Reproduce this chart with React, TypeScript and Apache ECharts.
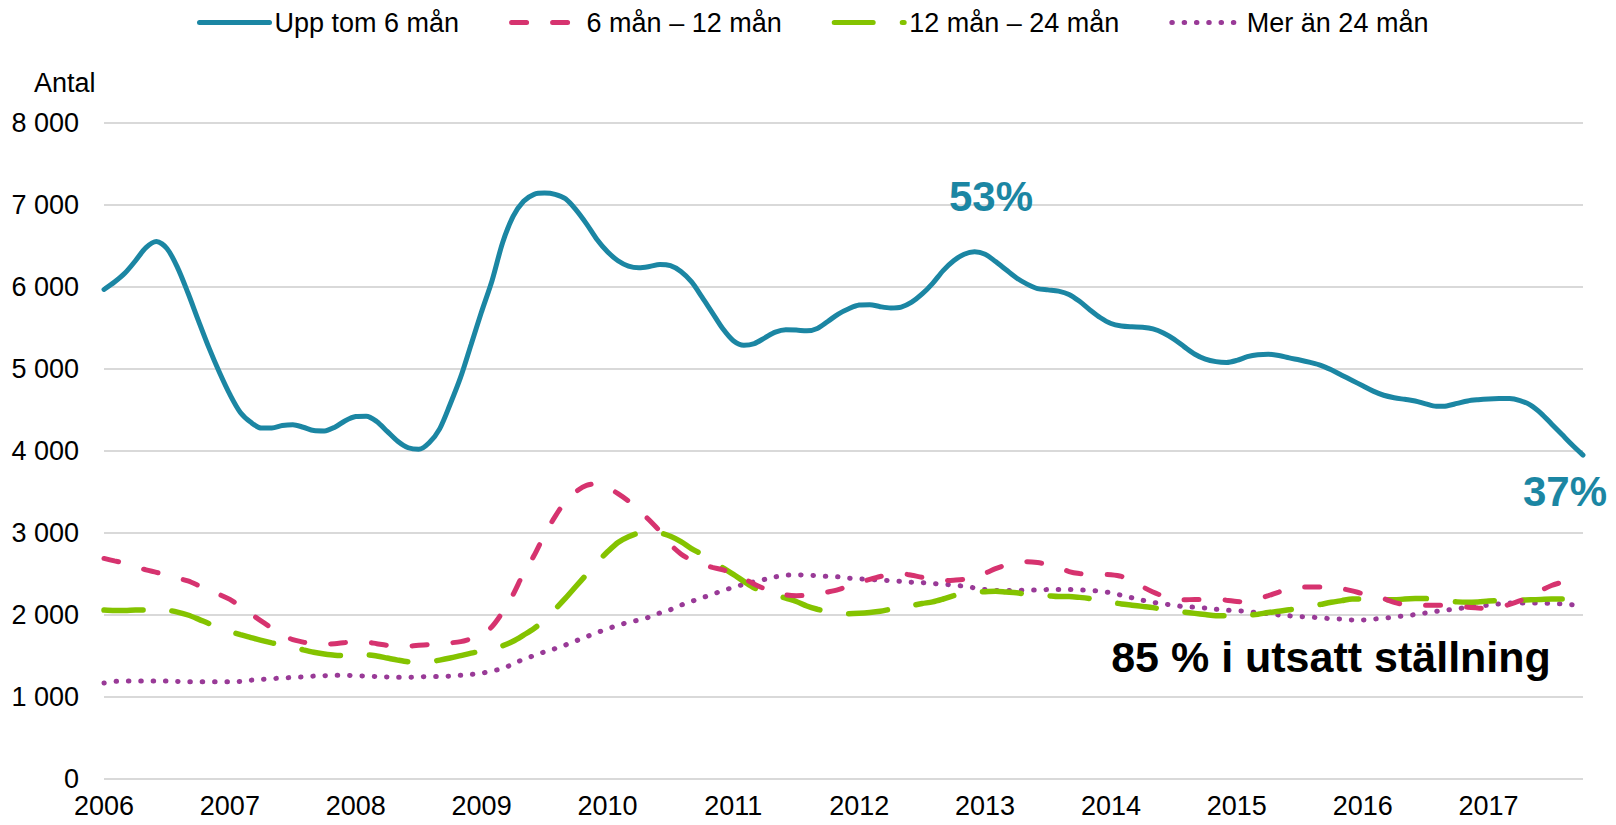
import React, { useEffect, useRef } from "react";
import * as echarts from "echarts";

const FONT = '"Liberation Sans", Arial, sans-serif';

const years = ["2006", "2007", "2008", "2009", "2010", "2011", "2012", "2013", "2014", "2015", "2016", "2017"];
const lastMonth = 10; // data ends 2017-10

const seriesNames = ["Upp tom 6 mån", "6 mån – 12 mån", "12 mån – 24 mån", "Mer än 24 mån"];

const upp6: number[] = [
  5970, 6060, 6170, 6320, 6480, 6555, 6470, 6240, 5930, 5590, 5260, 4960,
  4690, 4470, 4350, 4280, 4280, 4310, 4320, 4290, 4250, 4245, 4290, 4370,
  4420, 4425, 4360, 4240, 4120, 4040, 4020, 4100, 4270, 4570, 4900, 5300,
  5700, 6080, 6540, 6860, 7045, 7130, 7145, 7130, 7075, 6940, 6770, 6580,
  6430, 6320, 6255, 6235, 6250, 6275, 6260, 6190, 6065, 5880, 5685, 5490,
  5345, 5290, 5310, 5380, 5450, 5480, 5475, 5465, 5495, 5580, 5670, 5735,
  5780, 5785, 5760, 5745, 5755, 5815, 5915, 6045, 6200, 6320, 6400, 6430,
  6400, 6310, 6210, 6110, 6035, 5980, 5965, 5950, 5910, 5825, 5720, 5625,
  5555, 5525, 5515, 5510, 5490, 5440, 5365, 5270, 5180, 5120, 5090, 5080,
  5105, 5150, 5175, 5180, 5165, 5135, 5110, 5080, 5045, 4990, 4925, 4860,
  4795, 4730, 4680, 4650, 4630, 4610, 4575, 4545, 4550, 4580, 4610, 4625,
  4635, 4640, 4640, 4615, 4560, 4460, 4330, 4200, 4070, 3950,
];

const m6to12: number[] = [
  2690, 2660, 2630, 2590, 2550, 2520, 2485, 2450, 2415, 2360, 2300, 2250,
  2190, 2105, 2015, 1925, 1840, 1755, 1700, 1670, 1640, 1645, 1650, 1665,
  1675, 1670, 1650, 1630, 1615, 1620, 1630, 1640, 1650, 1660, 1675, 1710,
  1755, 1860, 2035, 2250, 2510, 2725, 2980, 3200, 3385, 3505, 3580, 3600,
  3555, 3480, 3390, 3280, 3155, 3020, 2860, 2745, 2670, 2620, 2580, 2550,
  2505, 2445, 2375, 2320, 2280, 2245, 2235, 2240, 2255, 2280, 2310, 2355,
  2395, 2435, 2470, 2495, 2505, 2485, 2460, 2445, 2420, 2425, 2435, 2470,
  2510, 2565, 2610, 2640, 2650, 2640, 2615, 2580, 2530, 2505, 2495, 2495,
  2490, 2470, 2415, 2345, 2280, 2230, 2190, 2185, 2190, 2190, 2190, 2180,
  2165, 2160, 2195, 2235, 2280, 2320, 2340, 2340, 2340, 2330, 2320, 2295,
  2260, 2235, 2200, 2155, 2125, 2120, 2120, 2120, 2120, 2105, 2095, 2085,
  2080, 2095, 2130, 2175, 2230, 2300, 2360, 2400, 2440, 2470,
];

const m12to24: number[] = [
  2060, 2055, 2055, 2060, 2060, 2070, 2060, 2035, 2000, 1950, 1895, 1845,
  1800, 1760, 1725, 1690, 1660, 1635, 1610, 1575, 1545, 1525, 1510, 1505,
  1515, 1515, 1500, 1475, 1450, 1430, 1425, 1430, 1450, 1475, 1505, 1535,
  1560, 1590, 1625, 1680, 1755, 1835, 1940, 2070, 2205, 2350, 2495, 2640,
  2770, 2885, 2955, 3000, 3010, 3000, 2960, 2895, 2810, 2740, 2660, 2575,
  2495, 2410, 2330, 2290, 2245, 2205, 2165, 2110, 2070, 2040, 2025, 2015,
  2020, 2030, 2045, 2070, 2090, 2115, 2140, 2160, 2195, 2235, 2270, 2280,
  2285, 2290, 2280, 2270, 2255, 2245, 2235, 2225, 2225, 2215, 2200, 2175,
  2155, 2135, 2120, 2105, 2090, 2070, 2050, 2035, 2020, 2005, 1990, 1990,
  1990, 1995, 2010, 2030, 2045, 2065, 2080, 2105, 2130, 2155, 2175, 2195,
  2195, 2190, 2185, 2185, 2195, 2200, 2200, 2190, 2175, 2160, 2155, 2160,
  2170, 2175, 2175, 2180, 2185, 2190, 2195, 2195, 2190, 2185,
];

const over24: number[] = [
  1170, 1190, 1195, 1195, 1195, 1195, 1195, 1190, 1185, 1185, 1185, 1185,
  1185, 1190, 1205, 1215, 1225, 1230, 1240, 1245, 1255, 1260, 1265, 1265,
  1260, 1255, 1250, 1245, 1240, 1240, 1245, 1250, 1250, 1255, 1265, 1275,
  1290, 1320, 1345, 1405, 1460, 1505, 1550, 1590, 1635, 1685, 1735, 1785,
  1830, 1875, 1910, 1940, 1975, 2025, 2065, 2120, 2165, 2210, 2250, 2300,
  2335, 2375, 2405, 2435, 2465, 2485, 2490, 2485, 2480, 2470, 2465, 2450,
  2440, 2435, 2425, 2420, 2410, 2400, 2395, 2385, 2375, 2365, 2350, 2330,
  2310, 2300, 2300, 2300, 2305, 2305, 2310, 2310, 2310, 2305, 2300, 2290,
  2270, 2240, 2210, 2180, 2155, 2135, 2120, 2100, 2095, 2085, 2070, 2060,
  2050, 2045, 2025, 2015, 2000, 1990, 1980, 1975, 1965, 1955, 1950, 1940,
  1940, 1950, 1960, 1975, 1990, 2005, 2025, 2045, 2060, 2075, 2095, 2110,
  2120, 2135, 2145, 2145, 2145, 2145, 2140, 2135, 2125, 2120,
];

const yTicks = [0, 1000, 2000, 3000, 4000, 5000, 6000, 7000, 8000];

const annotations = [
  { text: "53%", x: 991, y: 196, color: "#1B86A3", size: 42 },
  { text: "37%", x: 1565, y: 491, color: "#1B86A3", size: 42 },
  { text: "85 % i utsatt ställning", x: 1331, y: 657, color: "#000000", size: 43 },
];

const categories: string[] = [];
years.forEach((y, yi) => {
  const n = yi === years.length - 1 ? lastMonth : 12;
  for (let m = 1; m <= n; m++) categories.push(`${y}-${m < 10 ? "0" + m : m}`);
});

const fmtThousands = (v: number) => {
  if (v === 0) return "0";
  const s = String(v);
  return s.replace(/\B(?=(\d{3})+(?!\d))/g, " ");
};

export default function App() {
  const ref = useRef<HTMLDivElement>(null);
  useEffect(() => {
    if (!ref.current) return;
    const chart = echarts.init(ref.current, undefined, { renderer: "svg" });
    const colors = ["#1B86A3", "#D6336F", "#84C300", "#993A97"];
    chart.setOption({
      animation: false,
      backgroundColor: "#ffffff",
      color: colors,
      textStyle: { fontFamily: FONT },
      legend: {
        top: 4,
        left: 192,
        itemWidth: 70,
        itemHeight: 14,
        itemGap: 50,
        textStyle: { fontSize: 27, color: "#000", fontFamily: FONT },
        lineStyle: { width: 5 },
        itemStyle: { opacity: 0 },
        data: seriesNames,
      },
      grid: { left: 104, right: 33, top: 123, bottom: 46, containLabel: false },
      xAxis: {
        type: "category",
        data: categories,
        boundaryGap: false,
        axisLine: { show: false },
        axisTick: { show: false },
        splitLine: { show: false },
        axisLabel: {
          interval: 11,
          margin: 13,
          fontSize: 27,
          color: "#000",
          fontFamily: FONT,
          formatter: (v: string) => v.slice(0, 4),
        },
      },
      yAxis: {
        type: "value",
        min: yTicks[0],
        max: yTicks[yTicks.length - 1],
        interval: 1000,
        axisLine: { show: false },
        axisTick: { show: false },
        axisLabel: {
          margin: 25,
          fontSize: 27,
          color: "#000",
          fontFamily: FONT,
          formatter: (v: number) => fmtThousands(v),
        },
        splitLine: { lineStyle: { color: "#D9D9D9", width: 2 } },
      },
      graphic: [
        {
          type: "text",
          x: 34,
          y: 83,
          style: { text: "Antal", font: `27px ${FONT}`, fill: "#000", align: "left", verticalAlign: "middle" },
        },
        ...annotations.map((a) => ({
          type: "text",
          x: a.x,
          y: a.y,
          z: 100,
          style: {
            text: a.text,
            font: `bold ${a.size}px ${FONT}`,
            fill: a.color,
            align: "center",
            verticalAlign: "middle",
          },
        })),
      ],
      series: [
        {
          name: seriesNames[3],
          type: "line",
          data: over24,
          symbol: "none",
          smooth: 0.3,
          z: 2,
          itemStyle: { color: colors[3] },
          lineStyle: { color: colors[3], width: 5, type: [0.5, 11.8], cap: "round" },
        },
        {
          name: seriesNames[2],
          type: "line",
          data: m12to24,
          symbol: "none",
          smooth: 0.3,
          z: 3,
          itemStyle: { color: colors[2] },
          lineStyle: { color: colors[2], width: 5.5, type: [39, 29], cap: "round" },
        },
        {
          name: seriesNames[1],
          type: "line",
          data: m6to12,
          symbol: "none",
          smooth: 0.3,
          z: 4,
          itemStyle: { color: colors[1] },
          lineStyle: { color: colors[1], width: 5, type: [15, 26], cap: "round" },
        },
        {
          name: seriesNames[0],
          type: "line",
          data: upp6,
          symbol: "none",
          smooth: 0.3,
          z: 5,
          itemStyle: { color: colors[0] },
          lineStyle: { color: colors[0], width: 5, cap: "round" },
        },
      ],
    });
    return () => chart.dispose();
  }, []);
  return (
    <div
      ref={ref}
      style={{ position: "fixed", left: 0, top: 0, width: 1616, height: 825, background: "#fff" }}
    />
  );
}
